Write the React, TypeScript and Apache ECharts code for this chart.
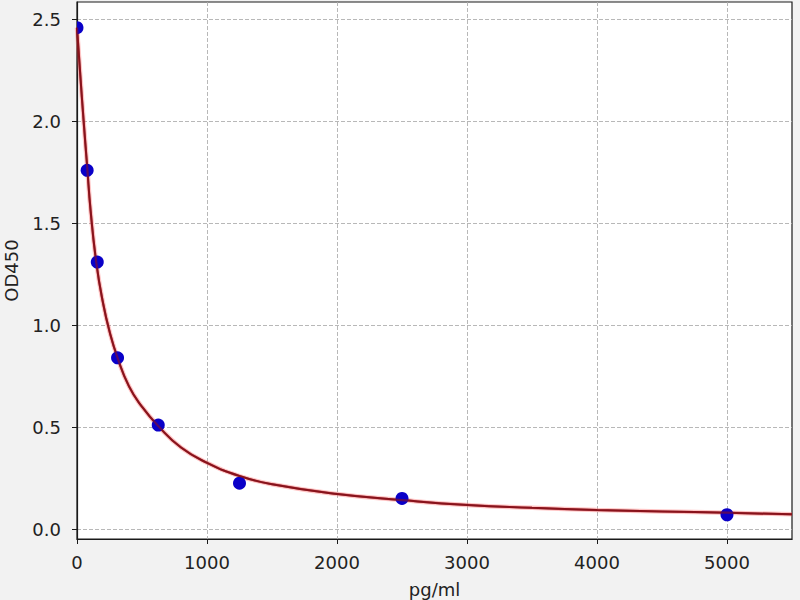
import { useEffect, useRef } from "react";
import * as echarts from "echarts";

// Standard points (concentration pg/ml, OD450)
const stdConc = [0, 78, 156, 312, 625, 1250, 2500, 5000];
const stdOD = [2.46, 1.76, 1.31, 0.84, 0.51, 0.225, 0.15, 0.07];

// Fitted curve, values
const fitConc = [0, 25, 50, 78, 105, 150, 200, 250, 312, 400, 500, 625, 800, 1000, 1250, 1500, 2000, 2500, 3000, 3500, 4000, 4500, 5000, 5500];
const fitOD = [2.46, 2.23, 2.01, 1.78, 1.56, 1.3, 1.11, 0.97, 0.84, 0.7, 0.6, 0.505, 0.4, 0.325, 0.26, 0.22, 0.172, 0.142, 0.118, 0.104, 0.093, 0.086, 0.08, 0.072];

const xTicks = [0, 1000, 2000, 3000, 4000, 5000];
const yTicks = [0, 0.5, 1.0, 1.5, 2.0, 2.5];

const FONT = "DejaVu Sans";

export default function App() {
  const ref = useRef<HTMLDivElement>(null);
  useEffect(() => {
    if (!ref.current) return;
    const chart = echarts.init(ref.current, null, { renderer: "svg" });
    const curve = fitConc.map((x, i) => [x, fitOD[i]]);
    const pts = stdConc.map((x, i) => [x, stdOD[i]]);
    const lineBase = {
      type: "line",
      data: curve,
      smooth: 0.5,
      showSymbol: false,
      symbol: "none",
      silent: true,
    };
    chart.setOption({
      animation: false,
      backgroundColor: "#f2f2f2",
      textStyle: { fontFamily: FONT },
      grid: {
        left: 77,
        right: 8,
        top: 2,
        bottom: 61,
        outerBoundsMode: "none",
        containLabel: false,
        show: true,
        backgroundColor: "#ffffff",
        borderColor: "#1a1a1a",
        borderWidth: 1.2,
      },
      xAxis: {
        type: "value",
        min: 0,
        max: 5500,
        name: "pg/ml",
        nameLocation: "middle",
        nameGap: 41,
        nameTextStyle: { fontFamily: FONT, fontSize: 18, color: "#222" },
        axisLine: { show: true, onZero: false, lineStyle: { color: "#1a1a1a", width: 1.2 } },
        axisTick: { show: true, length: 5, inside: false, customValues: xTicks, lineStyle: { color: "#1a1a1a", width: 1 } },
        axisLabel: {
          customValues: xTicks,
          fontFamily: FONT,
          fontSize: 18,
          color: "#222",
          margin: 14,
          formatter: (v: number) => String(Math.round(v)),
        },
        splitLine: { show: true, lineStyle: { color: "#b0b0b0", width: 0.9, type: [4, 2] } },
      },
      yAxis: {
        type: "value",
        min: -0.049,
        max: 2.586,
        name: "OD450",
        nameLocation: "middle",
        nameGap: 57,
        nameTextStyle: { fontFamily: FONT, fontSize: 18, color: "#222" },
        axisLine: { show: true, onZero: false, lineStyle: { color: "#1a1a1a", width: 1.2 } },
        axisTick: { show: true, length: 5, inside: false, customValues: yTicks, lineStyle: { color: "#1a1a1a", width: 1 } },
        axisLabel: {
          customValues: yTicks,
          fontFamily: FONT,
          fontSize: 18,
          color: "#222",
          margin: 16,
          formatter: (v: number) => v.toFixed(1),
        },
        splitLine: { show: true, lineStyle: { color: "#b0b0b0", width: 0.9, type: [4, 2] } },
      },
      series: [
        { ...lineBase, lineStyle: { color: "rgba(255,90,90,0.35)", width: 4.5 }, z: 2 },
        { ...lineBase, lineStyle: { color: "#861818", width: 2 }, z: 3 },
        {
          type: "custom",
          clip: true,
          data: pts,
          encode: { x: 0, y: 1 },
          z: 4,
          renderItem: (_params: any, api: any) => {
            const p = api.coord([api.value(0), api.value(1)]);
            return {
              type: "circle",
              shape: { cx: p[0], cy: p[1], r: 6.5 },
              style: { fill: "#0a00c8" },
            };
          },
        },
        { ...lineBase, lineStyle: { color: "rgba(140,15,30,0.6)", width: 2.2 }, z: 5 },
      ],
    });
    return () => chart.dispose();
  }, []);
  return (
    <div
      ref={ref}
      style={{ position: "absolute", left: 0, top: 0, width: 800, height: 600 }}
    />
  );
}
